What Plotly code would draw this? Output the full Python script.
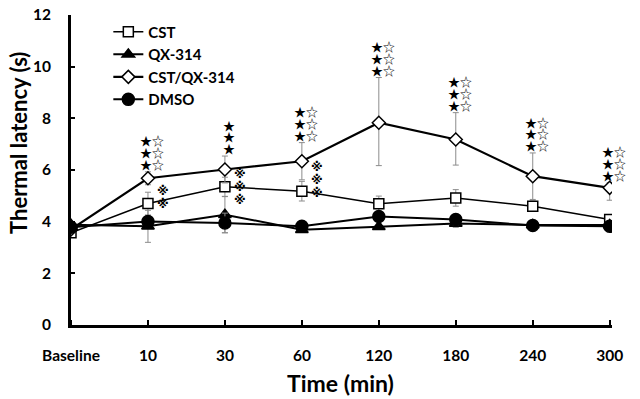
import plotly.graph_objects as go

categories = ["Baseline", "10", "30", "60", "120", "180", "240", "300"]
xpos = list(range(len(categories)))

cst = [3.57, 4.70, 5.35, 5.18, 4.69, 4.92, 4.60, 4.08]
cst_sd = [0.10, 0.44, 0.37, 0.38, 0.30, 0.32, 0.20, 0.12]

qx = [3.88, 3.82, 4.27, 3.69, 3.80, 3.93, 3.87, 3.87]
qx_sd = [0.10, 0.62, 0.70, 0.10, 0.10, 0.15, 0.10, 0.10]

cstqx = [3.70, 5.68, 6.02, 6.34, 7.83, 7.18, 5.76, 5.31]
cstqx_up = [0.10, 0.25, 0.52, 0.72, 1.75, 1.04, 0.90, 0.20]
cstqx_dn = [0.10, 0.25, 0.52, 0.72, 1.66, 0.99, 0.90, 0.48]

dmso = [3.78, 4.01, 3.95, 3.82, 4.20, 4.08, 3.85, 3.82]
dmso_sd = [0.10, 0.20, 0.38, 0.12, 0.15, 0.20, 0.10, 0.22]

# significance marks: one string per row, for each time point
star_rows = ["", "★☆", "★", "★☆", "★☆", "★☆", "★☆", "★☆"]
star_count = [0, 3, 3, 3, 3, 3, 3, 3]
ref_idx = [1, 2, 3]
ref_count = [2, 3, 3]
ref_y = [4.94, 5.34, 5.61]

yticks = [0, 2, 4, 6, 8, 10, 12]

ERR = "#8c8c8c"
FONT = "Lato, 'Open Sans', 'Liberation Sans', sans-serif"
CJK = "'Noto Sans CJK JP', 'DejaVu Sans', sans-serif"
REFFONT = "'DejaVu Sans', 'Noto Sans CJK JP', sans-serif"

fig = go.Figure()

def add(name, y, sd, sdm, symbol, size, fill, lw):
    fig.add_trace(go.Scatter(
        x=xpos, y=y, name=name, mode="lines+markers",
        line=dict(color="black", width=lw),
        marker=dict(symbol=symbol, size=size, color=fill,
                    line=dict(color="black", width=1.5)),
        error_y=dict(type="data", array=sd, arrayminus=sdm, symmetric=False,
                     color=ERR, thickness=1, width=3),
    ))

add("CST", cst, cst_sd, cst_sd, "square", 10, "white", 1.5)
add("QX-314", qx, qx_sd, qx_sd, "triangle-up", 11, "black", 2)
add("CST/QX-314", cstqx, cstqx_up, cstqx_dn, "diamond", 10, "white", 2.2)
add("DMSO", dmso, dmso_sd, dmso_sd, "circle", 12, "black", 2)

ROW = 11.7
for i, (t, n) in enumerate(zip(star_rows, star_count)):
    for r in range(n):
        fig.add_annotation(x=xpos[i], y=cstqx[i] + cstqx_up[i], text=t,
                           showarrow=False, yanchor="bottom", xshift=4,
                           yshift=-2 + r * ROW, borderpad=0,
                           font=dict(family=CJK, size=12, color="black"))

RROW = 13
for i, n, yy in zip(ref_idx, ref_count, ref_y):
    for r in range(n):
        fig.add_annotation(x=xpos[i], y=yy, text="※", showarrow=False,
                           xshift=15, yshift=(r - (n - 1) / 2) * RROW, borderpad=0,
                           font=dict(family=REFFONT, size=12, color="black", weight="bold"))

fig.add_annotation(xref="paper", yref="paper", x=-0.098, y=0.587, text="Thermal latency (s)",
                   textangle=-90, showarrow=False, xanchor="center", yanchor="middle",
                   font=dict(family=FONT, size=22, weight="bold", color="black"))
fig.add_annotation(xref="paper", yref="paper", x=0.499, y=-0.187, text="Time (min)",
                   showarrow=False, xanchor="center", yanchor="middle",
                   font=dict(family=FONT, size=23, weight="bold", color="black"))

fig.update_layout(
    width=640, height=399,
    margin=dict(l=71, r=28, t=15, b=74, autoexpand=False),
    paper_bgcolor="white", plot_bgcolor="white",
    font=dict(family=FONT, color="black"),
    showlegend=True,
    legend=dict(x=0.069, y=0.998, xanchor="left", yanchor="top",
                bgcolor="rgba(0,0,0,0)", itemwidth=30, tracegroupgap=0,
                font=dict(family=FONT, size=15, weight="bold"), itemsizing="trace"),
)

fig.update_xaxes(
    range=[0, 7.03], tickmode="array", tickvals=xpos, ticktext=categories,
    showline=True, linecolor="black", linewidth=3, showgrid=False, zeroline=False,
    ticks="outside", ticklen=14, tickwidth=1, tickcolor="white",
    minor=dict(ticks="inside", ticklen=5, tickwidth=2, tickcolor="black",
               tick0=0, dtick=1, showgrid=False),
    tickfont=dict(family=FONT, size=15.5, weight="bold"),
    automargin=False,
)
fig.update_yaxes(
    range=[0, 12], tickmode="array", tickvals=yticks,
    showline=True, linecolor="black", linewidth=3, showgrid=False, zeroline=False,
    ticks="inside", ticklen=4, tickwidth=2, tickcolor="black",
    tickfont=dict(family=FONT, size=15.5, weight="bold"),
    ticklabelstandoff=14, automargin=False,
)

fig.write_html("out.html", config={"displayModeBar": False},
               post_script="document.body.style.margin='0';")
